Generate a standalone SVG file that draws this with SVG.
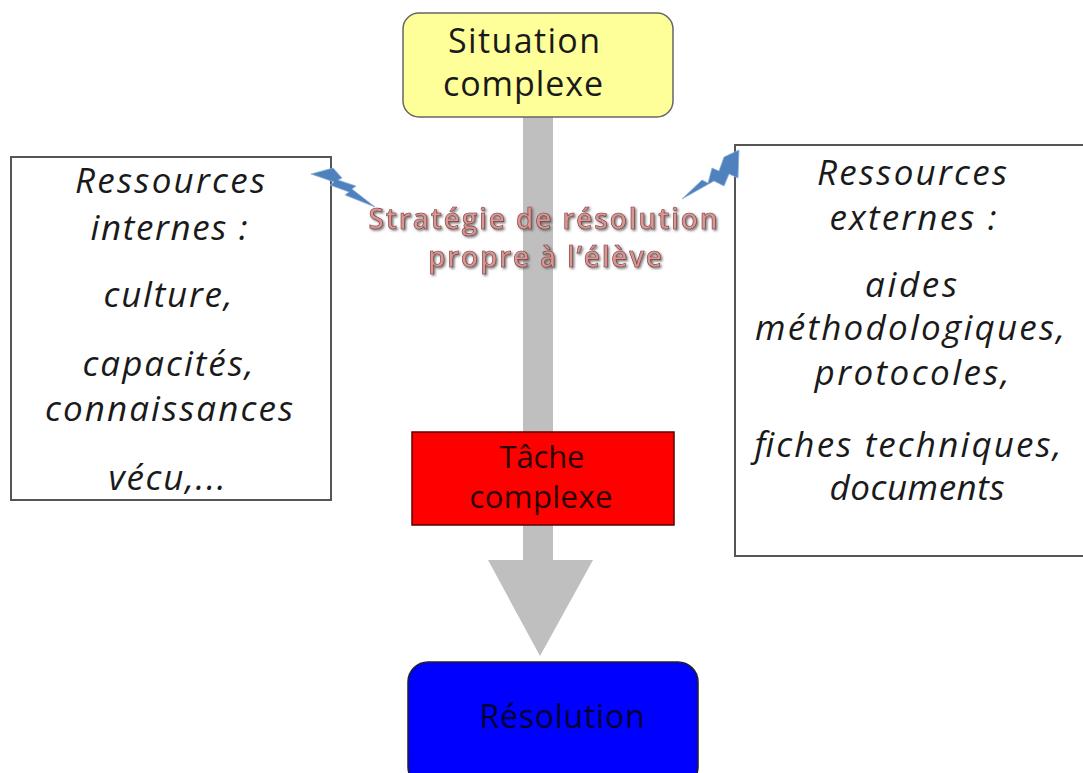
<svg xmlns="http://www.w3.org/2000/svg" width="1083" height="773" viewBox="0 0 1083 773">
<style>
.t{font-family:"Open Sans","Liberation Sans",sans-serif;fill:#1a1a1a;text-anchor:middle}
.it{font-style:italic;font-size:35px}
.box{fill:#fff;stroke:#555;stroke-width:2}
.bolt{fill:#4f81bd;stroke:#8fb0d8;stroke-width:0.8}
.mid{font-family:"Open Sans","Liberation Sans",sans-serif;font-weight:600;font-size:28px;fill:#d99694;text-anchor:middle;stroke:#7a3a38;stroke-width:0.6}
</style>
<defs>
<filter id="sh" x="-10%" y="-10%" width="120%" height="130%"><feDropShadow dx="1.5" dy="1.5" stdDeviation="0.8" flood-color="#555" flood-opacity="0.8"/></filter>
</defs>
<g id="connectors">
<rect x="523" y="117" width="30" height="445" fill="#bfbfbf"/>
<polygon points="488,560 593,560 540,656" fill="#bfbfbf"/>
</g>
<g id="situation">
<rect x="403" y="13" width="270" height="104" rx="16" fill="#ffff99" stroke="#666" stroke-width="1.5"/>
<text class="t" x="524" y="53" font-size="34" textLength="152">Situation</text>
<text class="t" x="523" y="96" font-size="34" textLength="160">complexe</text>
</g>
<g id="strategie">
<text class="mid" x="543" y="229" textLength="349" filter="url(#sh)">Stratégie de résolution</text>
<text class="mid" x="545" y="267" textLength="234" filter="url(#sh)">propre à l’élève</text>
</g>
<g id="internes">
<rect class="box" x="11" y="157" width="320" height="343"/>
<text class="t it" x="170" y="193" textLength="190">Ressources</text>
<text class="t it" x="169" y="240" textLength="157">internes :</text>
<text class="t it" x="168" y="307" textLength="129">culture,</text>
<text class="t it" x="168" y="376" textLength="171">capacités,</text>
<text class="t it" x="169" y="421" textLength="248">connaissances</text>
<text class="t it" x="167" y="490" textLength="117">vécu,...</text>
</g>
<g id="externes">
<rect class="box" x="735" y="145" width="360" height="411"/>
<text class="t it" x="912" y="185" textLength="190">Ressources</text>
<text class="t it" x="913" y="230" textLength="167">externes :</text>
<text class="t it" x="911" y="297" textLength="92">aides</text>
<text class="t it" x="910" y="340" textLength="310">méthodologiques,</text>
<text class="t it" x="912" y="385" textLength="195">protocoles,</text>
<text class="t it" x="908" y="457" textLength="307">fiches techniques,</text>
<text class="t it" x="917" y="500" textLength="175">documents</text>
</g>
<g id="bolts">
<polygon class="bolt" points="311,174 333,168 342,178 338,180 356,186 352,189 375,207 345,195 349,192 330,185 334,182"/>
<polygon class="bolt" points="739,150 738,178 729,174 724,186 714,181 682,199 702,180 708,183 712,168 719,171 724,157"/>
</g>
<g id="tache">
<rect x="412" y="432" width="262" height="93" fill="#ff0000" stroke="#5a0000" stroke-width="1.5"/>
<text class="t" x="542" y="468" font-size="31" style="fill:#2a0000" textLength="85">Tâche</text>
<text class="t" x="541" y="508" font-size="31" style="fill:#2a0000" textLength="143">complexe</text>
</g>
<g id="resolution">
<rect x="408" y="662" width="290" height="125" rx="20" fill="#0000ff" stroke="#222" stroke-width="1.5"/>
<text class="t" x="562" y="728" font-size="32" style="fill:#000033" textLength="165">Résolution</text>
</g>
</svg>
